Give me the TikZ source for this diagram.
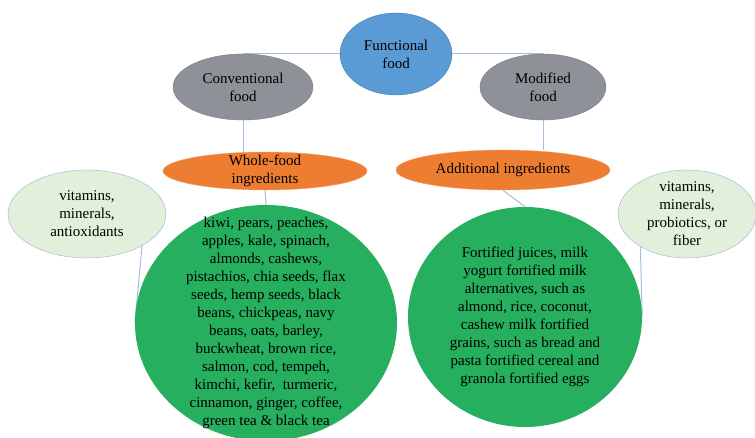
\documentclass[tikz,border=0pt]{standalone}
\usepackage{fontspec}
\setmainfont{Liberation Serif}
\usetikzlibrary{shapes.geometric,backgrounds}
\definecolor{funcblue}{RGB}{91,155,213}
\definecolor{convgray}{RGB}{143,145,152}
\definecolor{ingorange}{RGB}{237,125,49}
\definecolor{nutgreen}{RGB}{226,239,218}
\definecolor{foodgreen}{RGB}{38,175,94}
\definecolor{linkblue}{RGB}{165,190,222}

\begin{document}
\begin{tikzpicture}[x=1pt,y=-1pt,
    blob/.style={ellipse,inner sep=0pt},
    txt/.style={align=center,inner sep=0pt,font=\fontsize{15}{18}\selectfont},
    link/.style={draw=linkblue,line width=1pt}]
    \useasboundingbox (0,0) rectangle (755,438);
    \node [blob,fill=funcblue,draw=funcblue!80!black,minimum width=112,minimum height=82,
      label={[txt]center:Functional\\food}] (func) at (396,54) {};
    \node [blob,fill=convgray,draw=convgray!85!black,minimum width=140,minimum height=66,
      label={[txt]center:Conventional\\food}] (conv) at (243,87) {};
    \node [blob,fill=convgray,draw=convgray!85!black,minimum width=126,minimum height=66,
      label={[txt]center:Modified\\food}] (mod) at (543,87) {};
    \node [blob,fill=ingorange,draw=ingorange!70,minimum width=204,minimum height=38,
      label={[txt]center:Whole-food\\ingredients}] (whole) at (265,171) {};
    \node [blob,fill=ingorange,draw=ingorange!70,minimum width=214,minimum height=40,
      label={[txt]center:Additional ingredients}] (add) at (503,170) {};
    \node [blob,fill=nutgreen,draw=linkblue!80!gray,minimum width=158,minimum height=88,
      label={[txt]center:vitamins,\\minerals,\\antioxidants}] (vitL) at (87,214) {};
    \node [blob,fill=nutgreen,draw=linkblue!80!gray,minimum width=138,minimum height=88,
      label={[txt]center:vitamins,\\minerals,\\probiotics, or\\fiber}] (vitR) at (687,214) {};
    \node [blob,fill=foodgreen,minimum width=262,minimum height=236,
      label={[txt]center:kiwi, pears, peaches,\\apples, kale, spinach,\\almonds, cashews,\\pistachios, chia seeds, flax\\seeds, hemp seeds, black\\beans, chickpeas, navy\\beans, oats, barley,\\buckwheat, brown rice,\\salmon, cod, tempeh,\\kimchi, kefir,\ \ turmeric,\\cinnamon, ginger, coffee,\\green tea \& black tea}] (bigL) at (266,323) {};
    \node [blob,fill=foodgreen,minimum width=234,minimum height=220,
      label={[txt]center:Fortified juices, milk\\yogurt fortified milk\\alternatives, such as\\almond, rice, coconut,\\cashew milk fortified\\grains, such as bread and\\pasta fortified cereal and\\granola fortified eggs}] (bigR) at (525,317) {};
    \begin{scope}[on background layer]
      \draw [link] (func.west) -| (conv.north);
      \draw [link] (func.east) -| (mod.north);
      \draw [link] (conv.south) -- (conv.south |- whole.north);
      \draw [link] (mod.south) -- (mod.south |- add.north);
      \draw [link] (whole.south) -- (bigL.north);
      \draw [link] (add.south) -- (bigR.north);
      \draw [link] (vitL.-30) -- (bigL.west);
      \draw [link] (vitR.215) -- (bigR.east);
    \end{scope}
\end{tikzpicture}
\end{document}
